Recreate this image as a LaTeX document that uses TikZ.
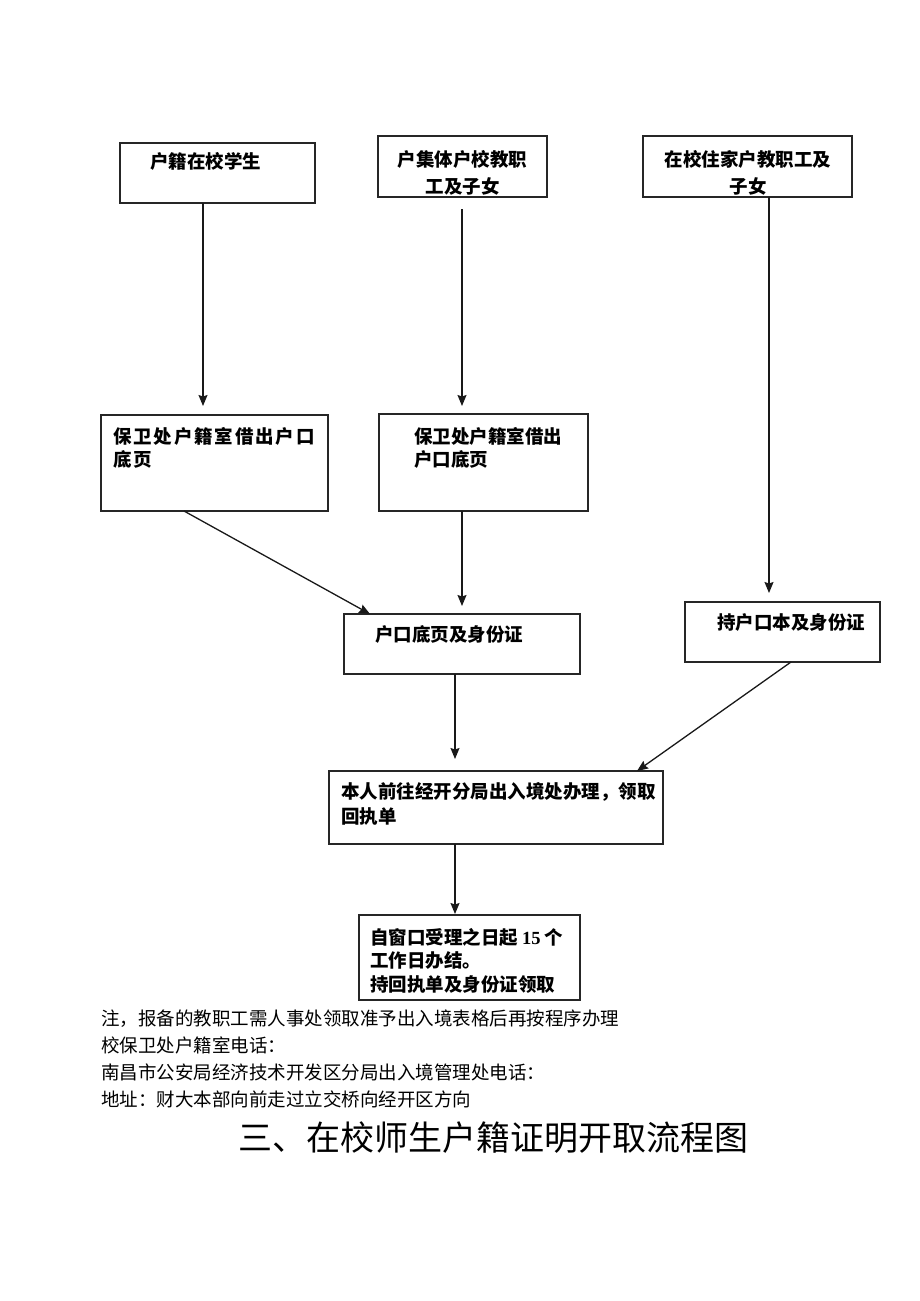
\documentclass[tikz,border=0pt]{standalone}
\usepackage{fontspec}
\setmainfont{Noto Sans CJK SC}
\newfontfamily\numserif{Liberation Serif}
\usetikzlibrary{calc,arrows.meta}
\begin{document}
\begin{tikzpicture}[x=1pt,y=-1pt,
  box/.style={draw=black!85,line width=1.3pt,rectangle,anchor=north west,inner sep=0pt,outer sep=0pt},
  btxt/.style={inner sep=0pt,outer sep=0pt,font=\fontsize{18.5}{24}\selectfont\bfseries},
  ntxt/.style={inner sep=0pt,outer sep=0pt,anchor=base west,align=left,font=\fontsize{18.5}{27}\selectfont},
  arr/.style={draw=black!90,line width=1.3pt,-{Stealth[length=11pt,width=9pt,inset=1.5pt]}}]
\fill[white] (0,0) rectangle (920,1301);
\useasboundingbox (0,0) rectangle (920,1301);

% boxes
\node[box,minimum width=195pt,minimum height=60pt] (b1) at (120,143) {};
\node[box,minimum width=169pt,minimum height=61pt] (b2) at (378,136) {};
\node[box,minimum width=209pt,minimum height=61pt] (b3) at (643,136) {};
\node[box,minimum width=227pt,minimum height=96pt] (b4) at (101,415) {};
\node[box,minimum width=209pt,minimum height=97pt] (b5) at (379,414) {};
\node[box,minimum width=236pt,minimum height=60pt] (b6) at (344,614) {};
\node[box,minimum width=195pt,minimum height=60pt] (b7) at (685,602) {};
\node[box,minimum width=334pt,minimum height=73pt] (b8) at (329,771) {};
\node[box,minimum width=221pt,minimum height=85pt] (b9) at (359,915) {};

% box texts (base anchor = baseline of last line)
\node[btxt,anchor=base west] (t1) at (150,168) {户籍在校学生};
\node[btxt,anchor=base,align=center,font=\fontsize{18.5}{27}\selectfont\bfseries] (t2) at (462.5,193) {户集体户校教职\\工及子女};
\node[btxt,anchor=base,align=center,font=\fontsize{18.5}{27}\selectfont\bfseries] (t3) at (748,193) {在校住家户教职工及\\子女};
\node[btxt,anchor=base west,align=left,font=\fontsize{18.5}{23}\selectfont\bfseries\addfontfeature{LetterSpace=10}] (t4) at (113,466) {保卫处户籍室借出户口\\底页};
\node[btxt,anchor=base west,align=left,font=\fontsize{18.5}{23}\selectfont\bfseries] (t5) at (414,466) {保卫处户籍室借出\\户口底页};
\node[btxt,anchor=base west] (t6) at (375,641) {户口底页及身份证};
\node[btxt,anchor=base west] (t7) at (717,629) {持户口本及身份证};
\node[btxt,anchor=base west,align=left,font=\fontsize{18.5}{25}\selectfont\bfseries] (t8) at (341,823) {本人前往经开分局出入境处办理，领取\\回执单};
\node[btxt,anchor=base west,align=left,font=\fontsize{18.5}{23.5}\selectfont\bfseries] (t9) at (370,991) {自窗口受理之日起 {\numserif\bfseries 15} 个\\工作日办结。\\持回执单及身份证领取};

% notes
\node[ntxt] (n1) at (101,1106) {注，报备的教职工需人事处领取准予出入境表格后再按程序办理\\校保卫处户籍室电话：\\南昌市公安局经济技术开发区分局出入境管理处电话：\\地址：财大本部向前走过立交桥向经开区方向};
\node[inner sep=0pt,anchor=base,font=\fontsize{34}{40}\selectfont] (title) at (493,1150) {三、在校师生户籍证明开取流程图};

% arrows
\draw[arr,shorten >=9pt] ($(b1.south west)+(83,0)$) -- ($(b4.north west)+(102,0)$);
\draw[arr,shorten <=12pt,shorten >=8pt] ($(b2.south west)+(84,0)$) -- ($(b5.north west)+(83,0)$);
\draw[arr,shorten >=9pt] ($(b3.south west)+(126,0)$) -- ($(b7.north west)+(84,0)$);
\draw[arr] ($(b4.south west)+(83,0)$) -- ($(b6.north west)+(26,0)$);
\draw[arr,shorten >=8pt] ($(b5.south west)+(83,0)$) -- ($(b6.north west)+(118,0)$);
\draw[arr,shorten >=12pt] ($(b6.south west)+(111,0)$) -- ($(b8.north west)+(126,0)$);
\draw[arr] ($(b7.south west)+(106,0)$) -- ($(b8.north west)+(308,0)$);
\draw[arr,shorten >=1pt] ($(b8.south west)+(126,0)$) -- ($(b9.north west)+(96,0)$);
\end{tikzpicture}
\end{document}
